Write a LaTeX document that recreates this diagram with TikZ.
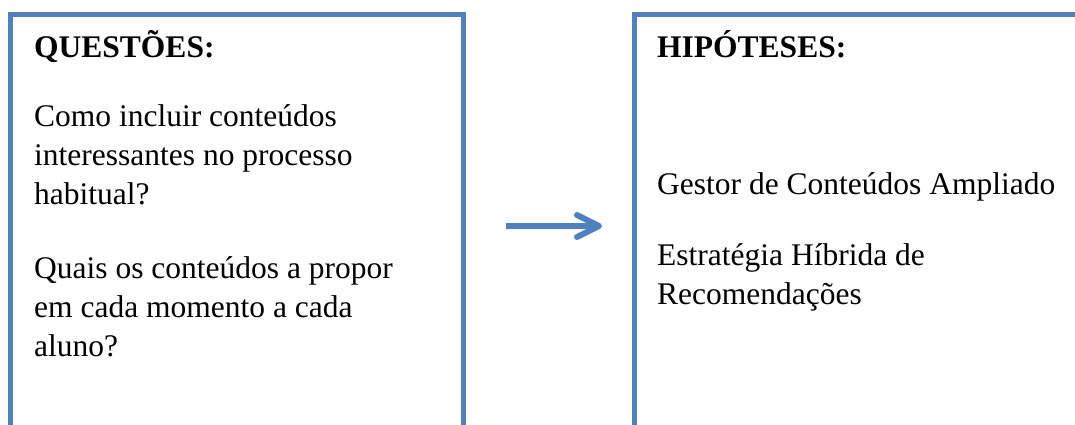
\documentclass[tikz,border=0pt]{standalone}
\usepackage{fontspec}
\setmainfont{Liberation Serif}
\definecolor{boxblue}{RGB}{79,129,189}
\begin{document}
\begin{tikzpicture}[x=1pt,y=-1pt,
  frame/.style={draw=boxblue,line width=5pt},
  txt/.style={anchor=base west,inner sep=0pt,font=\fontsize{31.5}{39}\selectfont},
  head/.style={txt,font=\fontsize{31.5}{39}\selectfont\bfseries},
  arr/.style={draw=boxblue,line width=6pt}]
\useasboundingbox (0,0) rectangle (1075,425);
\clip (0,0) rectangle (1075,425);
% boxes
\draw[frame] (10.5,440) -- (10.5,14.5) -- (463,14.5) -- (463,440);
\draw[frame] (634.5,440) -- (634.5,15) -- (1090,15);
% left texts
\node[head] (q) at (34,58) {QUESTÕES:};
\node[txt] (q1) at (34,127) {Como incluir conteúdos};
\node[txt] (q2) at (34,165.5) {interessantes no processo};
\node[txt] (q3) at (34,204) {habitual?};
\node[txt] (q4) at (34,278) {Quais os conteúdos a propor};
\node[txt] (q5) at (34,317) {em cada momento a cada};
\node[txt] (q6) at (34,356) {aluno?};
% right texts
\node[head] (h) at (657,58) {HIPÓTESES:};
\node[txt] (h1) at (657,194) {Gestor de Conteúdos Ampliado};
\node[txt] (h2) at (657,265) {Estratégia Híbrida de};
\node[txt] (h3) at (657,304) {Recomendações};
% arrow
\coordinate (a0) at (506,226);
\coordinate (a1) at (599,226);
\draw[arr] (a0) -- ([xshift=-4pt]a1);
\draw[arr,line cap=round,line join=round] ([shift={(-22,-11)}]a1) -- (a1) -- ([shift={(-22,11)}]a1);
\end{tikzpicture}
\end{document}
